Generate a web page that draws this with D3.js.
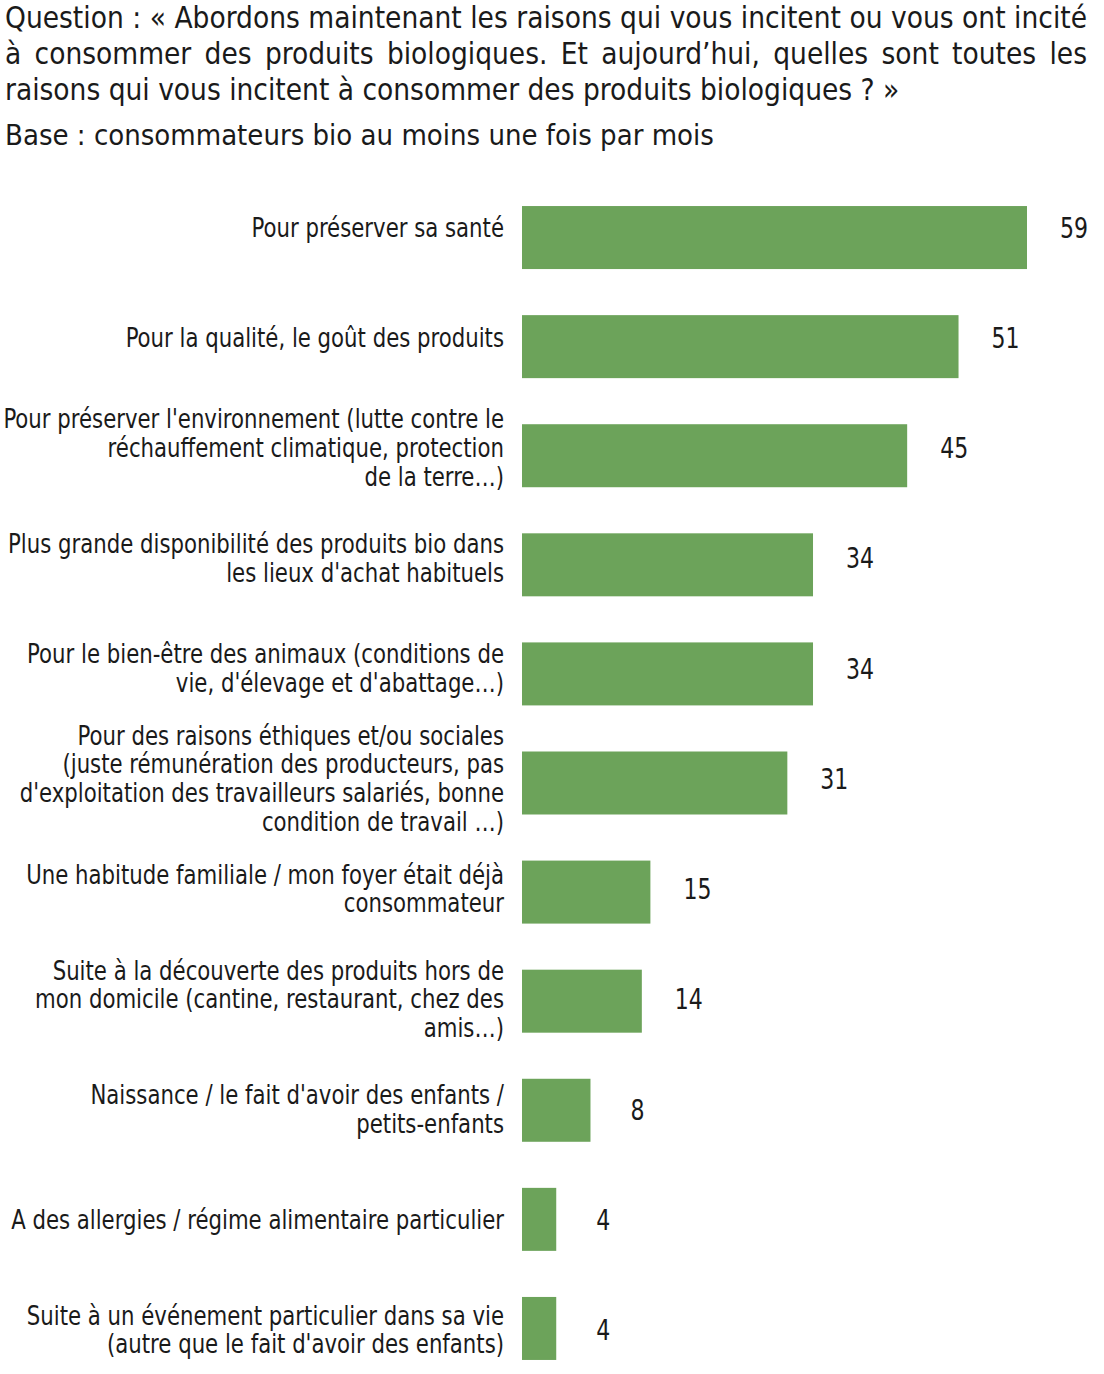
<!DOCTYPE html>
<html><head><meta charset="utf-8">
<script src="https://cdn.jsdelivr.net/npm/d3@7"></script>
<style>
html,body{margin:0;padding:0;background:#fff;}
svg text{font-family:"DejaVu Sans Condensed","DejaVu Sans",sans-serif;font-stretch:condensed;fill:#1a1a1a;}
</style></head>
<body>
<svg id="c" width="1104" height="1374"></svg>
<script>
const titleLines = [
  "Question : « Abordons maintenant les raisons qui vous incitent ou vous ont incité",
  "à consommer des produits biologiques. Et aujourd’hui, quelles sont toutes les",
  "raisons qui vous incitent à consommer des produits biologiques ? »"
];
const baseLine = "Base : consommateurs bio au moins une fois par mois";
const categories = [
  ["Pour préserver sa santé"],
  ["Pour la qualité, le goût des produits"],
  ["Pour préserver l'environnement (lutte contre le","réchauffement climatique, protection","de la terre…)"],
  ["Plus grande disponibilité des produits bio dans","les lieux d'achat habituels"],
  ["Pour le bien-être des animaux (conditions de","vie, d'élevage et d'abattage…)"],
  ["Pour des raisons éthiques et/ou sociales","(juste rémunération des producteurs, pas","d'exploitation des travailleurs salariés, bonne","condition de travail …)"],
  ["Une habitude familiale / mon foyer était déjà","consommateur"],
  ["Suite à la découverte des produits hors de","mon domicile (cantine, restaurant, chez des","amis…)"],
  ["Naissance / le fait d'avoir des enfants /","petits-enfants"],
  ["A des allergies / régime alimentaire particulier"],
  ["Suite à un événement particulier dans sa vie","(autre que le fait d'avoir des enfants)"]
];
const values = [59, 51, 45, 34, 34, 31, 15, 14, 8, 4, 4];

const svg = d3.select("#c");
const barColor = "#6ca35a";
const condense = 0.875;

// Title
titleLines.forEach((t, i) => {
  const el = svg.append("text").attr("x", 5).attr("y", 28 + i * 36)
    .attr("font-size", 29.5).text(t);
  if (i < 2) {
    const w = el.node().getComputedTextLength();
    const spaces = (t.match(/ /g) || []).length;
    el.attr("word-spacing", Math.max(0, (1087 - 5 - w) / spaces));
  }
});
svg.append("text").attr("x", 5).attr("y", 145).attr("font-size", 29).text(baseLine);

const x = d3.scaleLinear().domain([0, 59]).range([522, 1027]);
const y = d3.scaleBand().domain(d3.range(values.length)).range([183, 1383]).paddingInner(0.4225).paddingOuter(0.21125);
// text baselines (slightly different rhythm than the bars in the original)
const yText = d3.scalePoint().domain(d3.range(values.length)).range([236.5, 1339]);

const g = svg.append("g");
g.selectAll("rect").data(values).join("rect")
  .attr("x", x(0)).attr("y", (d, i) => y(i))
  .attr("width", d => x(d) - x(0)).attr("height", y.bandwidth())
  .attr("fill", barColor);

g.selectAll("g.val").data(values).join("g").attr("class", "val")
  .attr("transform", (d, i) => `translate(${x(d) + 47},${yText(i) + 1}) scale(${condense},1)`)
  .append("text").attr("text-anchor", "middle").attr("font-size", 28).text(d => d);

const lh = 28.6;
categories.forEach((lines, i) => {
  const lg = g.append("g").attr("transform", `translate(504,${yText(i)}) scale(${condense},1)`);
  const t = lg.append("text").attr("text-anchor", "end").attr("font-size", 27);
  lines.forEach((ln, j) => {
    t.append("tspan").attr("x", 0)
      .attr("y", (j - (lines.length - 1) / 2) * lh).text(ln);
  });
});
</script>
</body></html>
